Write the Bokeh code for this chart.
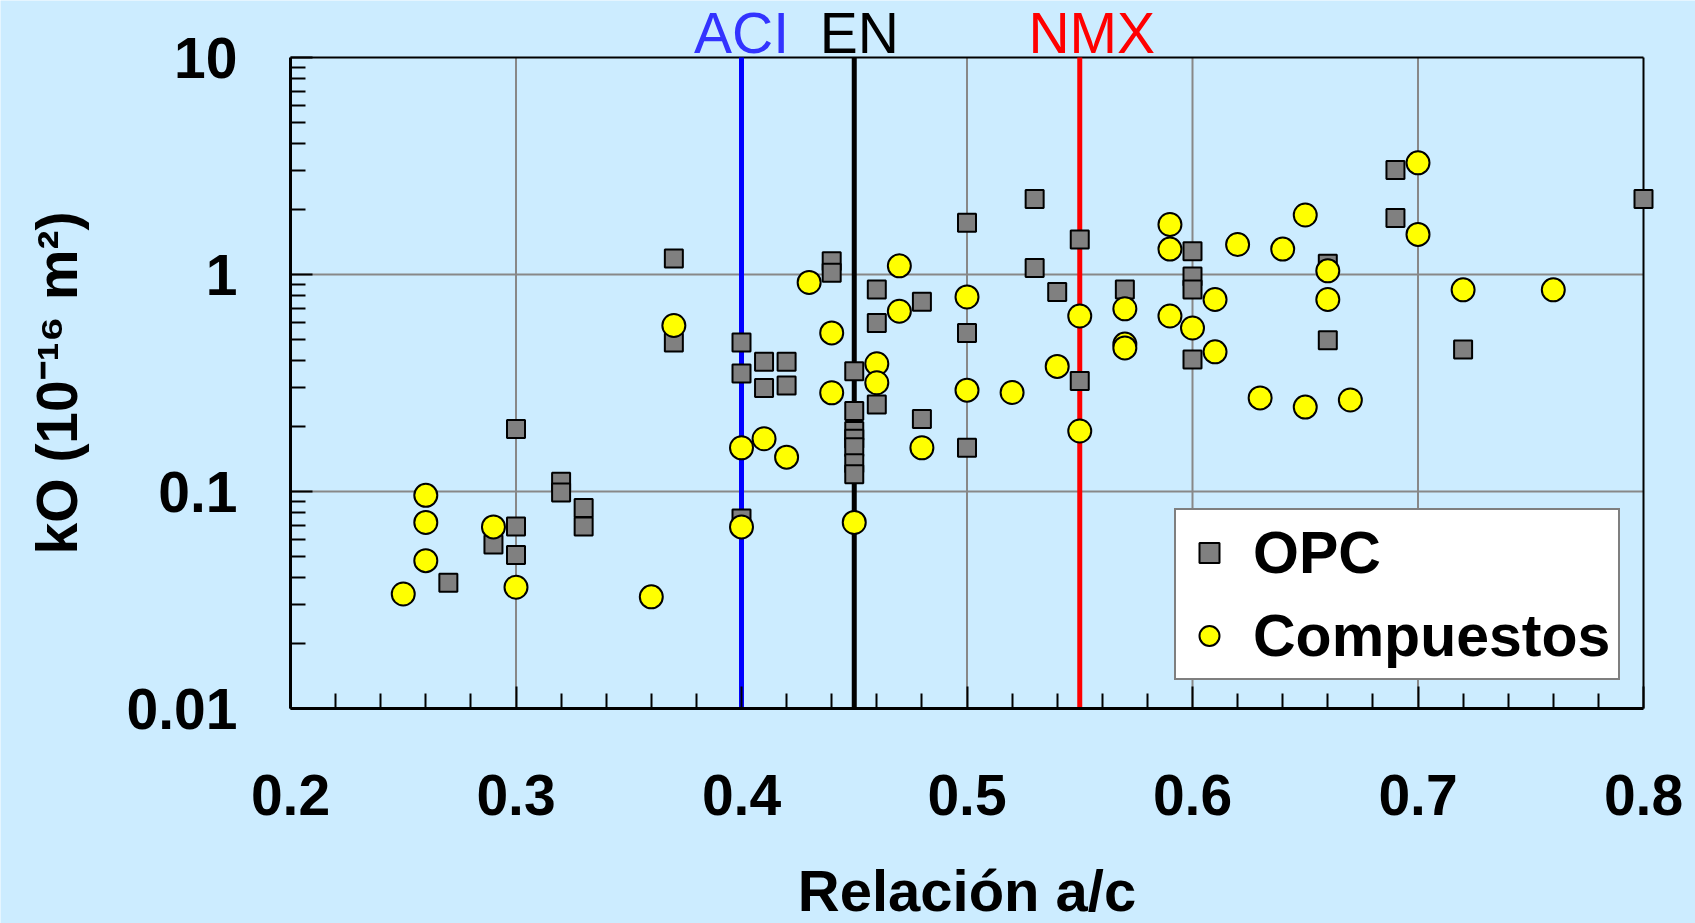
import math
from bokeh.plotting import figure
from bokeh.models import (FixedTicker, CustomJSTickFormatter, Label, Legend,
                          LegendItem, Range1d)
from bokeh.embed import file_html
from bokeh.resources import INLINE

# ---- data ----
opc_x = [0.27, 0.29, 0.30, 0.30, 0.30, 0.32, 0.32, 0.33, 0.33,
         0.37, 0.37, 0.40, 0.40, 0.40, 0.41, 0.41, 0.42, 0.42,
         0.44, 0.44, 0.45, 0.45, 0.45, 0.45, 0.45, 0.45, 0.45,
         0.46, 0.46, 0.46, 0.48, 0.48, 0.50, 0.50, 0.50,
         0.53, 0.53, 0.54, 0.55, 0.55, 0.57,
         0.60, 0.60, 0.60, 0.60, 0.66, 0.66, 0.69, 0.69, 0.72, 0.80]
opc_y = [0.038, 0.057, 0.194, 0.069, 0.051, 0.111, 0.099, 0.084, 0.069,
         1.185, 0.486, 0.486, 0.35, 0.075, 0.396, 0.30, 0.396, 0.308,
         1.15, 1.02, 0.358, 0.235, 0.19, 0.175, 0.16, 0.135, 0.12,
         0.853, 0.597, 0.252, 0.748, 0.216, 1.73, 0.538, 0.159,
         2.23, 1.07, 0.83, 1.45, 0.323, 0.853,
         1.28, 0.98, 0.853, 0.406, 1.12, 0.498, 3.03, 1.82, 0.451, 2.23]

comp_x = [0.25, 0.26, 0.26, 0.26, 0.29, 0.30, 0.36, 0.37, 0.40, 0.40,
          0.41, 0.42, 0.43, 0.44, 0.44, 0.45, 0.46, 0.46, 0.47, 0.47,
          0.48, 0.50, 0.50, 0.52, 0.54, 0.55, 0.55, 0.57, 0.57, 0.57,
          0.59, 0.59, 0.59, 0.60, 0.61, 0.61, 0.62, 0.63, 0.64, 0.65,
          0.65, 0.66, 0.66, 0.67, 0.70, 0.70, 0.72, 0.76]
comp_y = [0.0337, 0.096, 0.072, 0.048, 0.0687, 0.0362, 0.0327, 0.582, 0.159, 0.0687,
          0.175, 0.144, 0.919, 0.538, 0.285, 0.072, 0.388, 0.317, 1.096, 0.677,
          0.159, 0.788, 0.293, 0.286, 0.377, 0.644, 0.19, 0.695, 0.478, 0.459,
          1.70, 1.31, 0.644, 0.567, 0.767, 0.44, 1.375, 0.27, 1.31, 1.88,
          0.245, 1.04, 0.767, 0.264, 3.27, 1.53, 0.85, 0.85]

norm_x = [0.40, 0.45, 0.55]
norm_names = ["ACI", "EN", "NMX"]

x_title = "Relación a/c"
y_title = "kO (10\u207b\u00b9\u2076 m\u00b2)"

x_ticks = [0.2, 0.3, 0.4, 0.5, 0.6, 0.7, 0.8]
x_minor = [0.22, 0.24, 0.26, 0.28, 0.32, 0.34, 0.36, 0.38, 0.42, 0.44, 0.46, 0.48,
           0.52, 0.54, 0.56, 0.58, 0.62, 0.64, 0.66, 0.68, 0.72, 0.74, 0.76, 0.78]
y_ticks = [0.01, 0.1, 1, 10]
y_minor = [0.02, 0.03, 0.04, 0.05, 0.06, 0.07, 0.08, 0.09,
           0.2, 0.3, 0.4, 0.5, 0.6, 0.7, 0.8, 0.9,
           2, 3, 4, 5, 6, 7, 8, 9]

# ---- styles / layout ----
BG = "#CCECFF"
FONT = "Liberation Sans"
line_colors = ["#0000FF", "#000000", "#FF0000"]
text_colors = ["#3333FF", "#000000", "#FF0000"]
text_dx = [0, 5, 12]

W, H = 1695, 923
BOX_L, BOX_R, BOX_T, BOX_B = 290, 1643, 57, 708   # axes box in page pixels

x0, x1 = x_ticks[0], x_ticks[-1]
y0, y1 = y_ticks[0], y_ticks[-1]
px_per_x = (BOX_R - BOX_L) / (x1 - x0)
px_per_dec = (BOX_B - BOX_T) / math.log10(y1 / y0)
# the data frame covers the whole canvas; axes are pinned at the box edges
xr = Range1d(x0 - BOX_L / px_per_x, x1 + (W - BOX_R) / px_per_x)
yr = Range1d(y0 * 10 ** (-(H - BOX_B) / px_per_dec), y1 * 10 ** (BOX_T / px_per_dec))

p = figure(width=W, height=H, x_range=xr, y_range=yr,
           y_axis_type="log", output_backend="svg", toolbar_location=None,
           background_fill_color=BG, border_fill_color=BG,
           min_border_left=0, min_border_right=0,
           min_border_top=0, min_border_bottom=0)
p.outline_line_color = None
p.grid.visible = False

p.xaxis.ticker = FixedTicker(ticks=x_ticks, minor_ticks=x_minor)
p.xaxis.fixed_location = y0
p.xaxis.bounds = (x0, x1)
p.yaxis.ticker = FixedTicker(ticks=y_ticks, minor_ticks=y_minor)
p.yaxis.formatter = CustomJSTickFormatter(code="return tick.toString();")
p.yaxis.fixed_location = x0
p.yaxis.bounds = (y0, y1)

for ax in (p.xaxis, p.yaxis):
    ax.axis_line_width = 3
    ax.axis_line_color = "black"
    ax.major_tick_in = 22
    ax.major_tick_out = 0
    ax.minor_tick_in = 15
    ax.minor_tick_out = 0
    ax.major_tick_line_width = 2
    ax.minor_tick_line_width = 2
    ax.major_tick_line_color = "black"
    ax.minor_tick_line_color = "black"
    ax.major_label_text_font = FONT
    ax.major_label_text_font_size = "57px"
    ax.major_label_text_font_style = "bold"
    ax.major_label_text_color = "black"

p.xaxis.major_label_standoff = 66
p.yaxis.major_label_standoff = 53

# axis titles
p.add_layout(Label(x=(x0 + x1) / 2, y=y0, y_offset=-182, text=x_title,
                   text_align="center", text_baseline="middle",
                   text_font=FONT, text_font_size="58px",
                   text_font_style="bold", text_color="black"))
p.add_layout(Label(x=x0, y=math.sqrt(y0 * y1), x_offset=-234, text=y_title,
                   angle=math.pi / 2, text_align="center", text_baseline="middle",
                   text_font=FONT, text_font_size="57px",
                   text_font_style="bold", text_color="black"))

# grid lines (inside the axes box only)
gx = x_ticks[1:-1]
p.segment(x0=gx, x1=gx, y0=[y0] * len(gx), y1=[y1] * len(gx),
          line_color="#888888", line_width=2)
gy = y_ticks[1:-1]
p.segment(x0=[x0] * len(gy), x1=[x1] * len(gy), y0=gy, y1=gy,
          line_color="#888888", line_width=2)

# top and right frame lines
p.segment(x0=[x0, x1], x1=[x1, x1], y0=[y1, y0], y1=[y1, y1],
          line_color="black", line_width=2)

# standard limits
p.segment(x0=norm_x, x1=norm_x, y0=[y0] * 3, y1=[y1] * 3,
          line_color=line_colors, line_width=5)

r_opc = p.scatter(opc_x, opc_y, marker="square", size=18, fill_color="#808080",
                  line_color="black", line_width=2)
r_comp = p.scatter(comp_x, comp_y, marker="circle", size=23, fill_color="#FFFF00",
                   line_color="black", line_width=2)

for xv, name, col, dx in zip(norm_x, norm_names, text_colors, text_dx):
    p.add_layout(Label(x=xv, y=y1, x_offset=dx, y_offset=25, text=name,
                       text_align="center", text_baseline="alphabetic",
                       text_font=FONT, text_font_size="57px", text_color=col))

legend = Legend(items=[LegendItem(label="OPC", renderers=[r_opc]),
                       LegendItem(label="Compuestos", renderers=[r_comp])],
                location=(1174, 243), orientation="vertical",
                border_line_color="black", border_line_width=2,
                background_fill_color="white", background_fill_alpha=1.0,
                label_text_font=FONT, label_text_font_size="59px",
                label_text_font_style="bold", label_text_color="black",
                glyph_width=50, glyph_height=69, label_height=69,
                spacing=14, padding=8, margin=0, label_standoff=19)
p.add_layout(legend)

open("out.html", "w").write(file_html(p, INLINE))
